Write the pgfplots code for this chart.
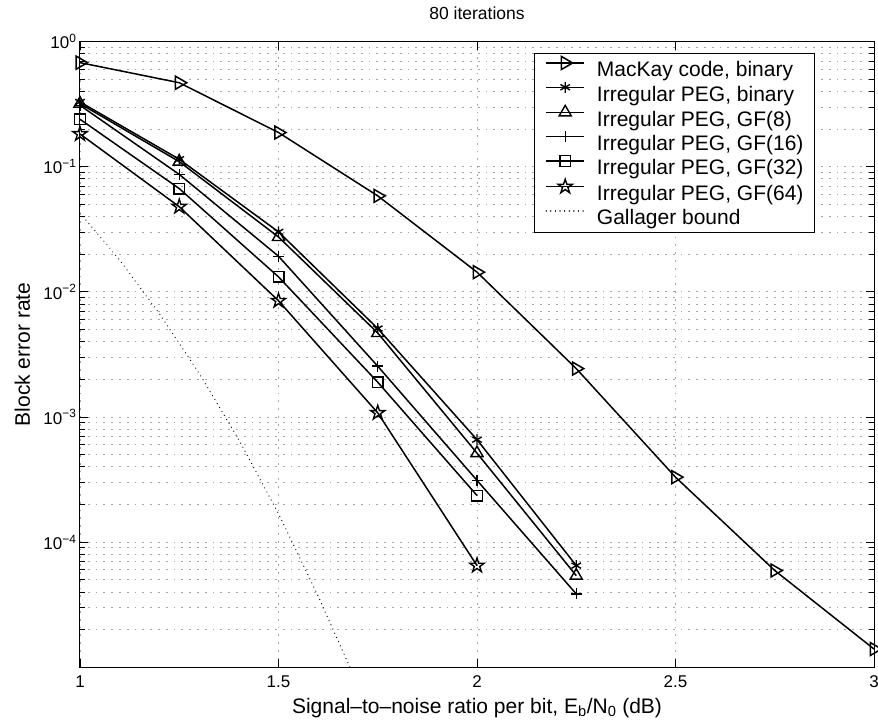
\documentclass[border=0pt]{standalone}
\usepackage{fontspec}
\setmainfont{Liberation Sans}
\usepackage{pgfplots}
\pgfplotsset{compat=1.18}

% open five-pointed star, like MATLAB's 'p' marker
\pgfdeclareplotmark{pentagram}{%
  \pgfpathmoveto{\pgfpointpolar{90}{\pgfplotmarksize}}%
  \pgfpathlineto{\pgfpointpolar{126}{0.382\pgfplotmarksize}}%
  \pgfpathlineto{\pgfpointpolar{162}{\pgfplotmarksize}}%
  \pgfpathlineto{\pgfpointpolar{198}{0.382\pgfplotmarksize}}%
  \pgfpathlineto{\pgfpointpolar{234}{\pgfplotmarksize}}%
  \pgfpathlineto{\pgfpointpolar{270}{0.382\pgfplotmarksize}}%
  \pgfpathlineto{\pgfpointpolar{306}{\pgfplotmarksize}}%
  \pgfpathlineto{\pgfpointpolar{342}{0.382\pgfplotmarksize}}%
  \pgfpathlineto{\pgfpointpolar{18}{\pgfplotmarksize}}%
  \pgfpathlineto{\pgfpointpolar{54}{0.382\pgfplotmarksize}}%
  \pgfpathclose
  \pgfusepathqstroke
}

\begin{document}
\begin{tikzpicture}
    \begin{axis}[
        scale only axis,
        width=794pt,
        height=625.6pt,
        ymode=log,
        xmin=1, xmax=3,
        ymin=1e-5, ymax=1,
        xtick={1,1.5,2,2.5,3},
        xticklabels={1,1.5,2,2.5,3},
        ytick={1e-5,1e-4,1e-3,1e-2,1e-1,1},
        yticklabels={,10\textsuperscript{−4},10\textsuperscript{−3},10\textsuperscript{−2},10\textsuperscript{−1},10\textsuperscript{0}},
        minor ytick={2e-5,3e-5,4e-5,5e-5,6e-5,7e-5,8e-5,9e-5,
                     2e-4,3e-4,4e-4,5e-4,6e-4,7e-4,8e-4,9e-4,
                     2e-3,3e-3,4e-3,5e-3,6e-3,7e-3,8e-3,9e-3,
                     2e-2,3e-2,4e-2,5e-2,6e-2,7e-2,8e-2,9e-2,
                     0.2,0.3,0.4,0.5,0.6,0.7,0.8,0.9},
        tick align=inside,
        tick pos=both,
        major tick length=8pt,
        minor tick length=5pt,
        every tick/.style={black, line width=0.9pt},
        axis line style={black, line width=1pt},
        xmajorgrids, ymajorgrids, yminorgrids,
        major grid style={dash pattern=on 1.8pt off 6pt, gray!70, line width=0.9pt},
        minor grid style={dash pattern=on 1.8pt off 6pt, gray!70, line width=0.9pt},
        ticklabel style={font=\fontsize{17}{20}\selectfont},
        xticklabel style={yshift=-5pt},
        title={80 iterations},
        title style={at={(axis description cs:0.5,1)}, anchor=base, yshift=16pt,
                     font=\fontsize{17.5}{20}\selectfont},
        xlabel={Signal--to--noise ratio per bit, E\textsubscript{b}/N\textsubscript{0} (dB)},
        xlabel style={at={(axis description cs:0.5,0)}, anchor=base, yshift=-45.7pt,
                      font=\fontsize{21}{24}\selectfont},
        ylabel={Block error rate},
        ylabel style={at={(axis description cs:-0.063,0.5)}, anchor=base,
                      font=\fontsize{21}{24}\selectfont},
        legend style={at={(axis description cs:0.9257,0.982)}, anchor=north east,
                      draw=black, line width=1pt, fill=white,
                      font=\fontsize{21}{24}\selectfont,
                      inner xsep=11pt, inner ysep=3pt,
                      nodes={inner xsep=0pt, inner ysep=0pt, text height=20pt, text depth=4.3pt},
                      column sep=12pt, row sep=0pt},
        legend cell align=left,
        legend image code/.code={
            \draw[mark repeat=2,mark phase=2] plot coordinates {(10pt,6pt)(29pt,6pt)(48pt,6pt)};},
        every axis plot/.append style={black, line width=1.5pt, mark options={solid, line width=1.4pt}},
    ]
        % MacKay code, binary
        \addplot[mark=triangle, mark size=7.5pt, mark options={rotate=-90}] coordinates {
            (1,0.68) (1.25,0.47) (1.5,0.188) (1.75,0.0586) (2,0.0144)
            (2.25,0.00244) (2.5,3.31e-4) (2.75,5.94e-5) (3,1.40e-5)
        };
        % Irregular PEG, binary
        \addplot[mark=asterisk, mark size=5.5pt] coordinates {
            (1,0.33) (1.25,0.115) (1.5,0.0302) (1.75,5.1e-3) (2,6.6e-4) (2.25,6.5e-5)
        };
        % GF(8)
        \addplot[mark=triangle, mark size=7pt] coordinates {
            (1,0.32) (1.25,0.11) (1.5,0.0275) (1.75,4.7e-3) (2,5.15e-4) (2.25,5.4e-5)
        };
        % GF(16)
        \addplot[mark=+, mark size=5.5pt] coordinates {
            (1,0.31) (1.25,0.087) (1.5,0.0193) (1.75,2.55e-3) (2,3.12e-4) (2.25,3.86e-5)
        };
        % GF(32)
        \addplot[mark=square, mark size=5.3pt] coordinates {
            (1,0.24) (1.25,0.067) (1.5,0.0132) (1.75,1.9e-3) (2,2.36e-4)
        };
        % GF(64)
        \addplot[mark=pentagram, mark size=7.5pt] coordinates {
            (1,0.183) (1.25,0.048) (1.5,0.0085) (1.75,1.08e-3) (2,6.5e-5)
        };
        % Gallager bound
        \addplot[line width=1.3pt, line cap=round, dash pattern=on 0.01pt off 4.6pt] coordinates {
            (1,0.0427) (1.1,0.018) (1.2,0.00671) (1.3,0.00224) (1.4,6.6e-4)
            (1.5,1.69e-4) (1.6,3.7e-5) (1.7,7.2e-6)
        };
        \legend{{MacKay code, binary}, {Irregular PEG, binary},
                {Irregular PEG, GF(8)}, {Irregular PEG, GF(16)},
                {Irregular PEG, GF(32)}, {Irregular PEG, GF(64)}, {Gallager bound}}
    \end{axis}
    \pgfresetboundingbox
    \path[use as bounding box] (-80pt,-54.7pt) rectangle (798pt,667.3pt);
\end{tikzpicture}
\end{document}
